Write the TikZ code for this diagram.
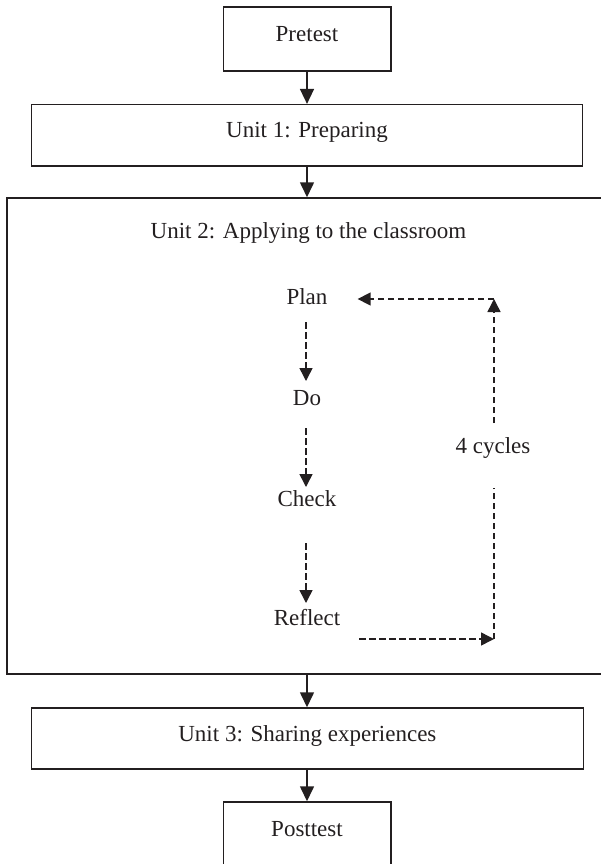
\documentclass[tikz,border=0pt]{standalone}
\usepackage{fontspec}
\setmainfont{Liberation Serif}
\usetikzlibrary{arrows.meta}
\definecolor{ink}{RGB}{35,31,32}
\begin{document}
\begin{tikzpicture}[x=1pt,y=-1pt,
  every node/.style={text=ink,font=\fontsize{23}{27}\selectfont},
  box/.style={draw=ink,line width=1.5pt,inner sep=0pt,text height=16pt,text depth=11pt},
  lbl/.style={inner sep=0pt,anchor=base},
  arr/.style={draw=ink,line width=1.6pt,-{Triangle[length=15pt,width=14pt]}},
  dasharr/.style={draw=ink,line width=1.5pt,dash pattern=on 6.5pt off 3.5pt,-{Triangle[length=13pt,width=13pt]}},
  dashln/.style={draw=ink,line width=1.5pt,dash pattern=on 6.5pt off 3.5pt}]
\useasboundingbox (0,0) rectangle (600,864);
% boxes
\node[box,minimum width=167.5pt,minimum height=64pt] (pre) at (307,39) {Pretest};
\node[box,minimum width=551pt,minimum height=61.3pt] (u1) at (307,135.3) {Unit 1: Preparing};
\node[draw=ink,line width=1.5pt,minimum width=595pt,minimum height=476pt,inner sep=0pt] (u2) at (304.5,436) {};
\node[lbl] (u2t) at (308.5,238) {Unit 2: Applying to the classroom};
\node[box,minimum width=551.8pt,minimum height=61pt] (u3) at (307.4,738.5) {Unit 3: Sharing experiences};
\node[box,minimum width=167.5pt,minimum height=64pt] (post) at (307,834) {Posttest};
% solid arrows
\draw[arr] (pre.south) -- (u1.north -| pre.south);
\draw[arr] (u1.south -| pre.south) -- (u2.north -| pre.south);
\draw[arr] (u2.south -| pre.south) -- (u3.north -| pre.south);
\draw[arr] (u3.south -| post.north) -- (post.north);
% cycle labels
\node[lbl] (plan) at (307,304) {Plan};
\node[lbl] (do) at (307,405) {Do};
\node[lbl] (check) at (307,506) {Check};
\node[lbl] (reflect) at (307,625) {Reflect};
\node[lbl] (cyc) at (493,453) {4 cycles};
\coordinate (cbr) at (494,639);
\coordinate (ctr) at (494,299);
\coordinate (cyclo) at ([yshift=-35pt]cyc.base);
\coordinate (cychi) at ([yshift=30pt]cyc.base);
% dashed arrows
\draw[dasharr] ([xshift=-1pt,yshift=-18pt]plan.base) -- ([xshift=-1pt,yshift=24pt]do.base);
\draw[dasharr] ([xshift=-1pt,yshift=-23pt]do.base) -- ([xshift=-1pt,yshift=19pt]check.base);
\draw[dasharr] ([xshift=-1pt,yshift=-37pt]check.base) -- ([xshift=-1pt,yshift=22pt]reflect.base);
\draw[dasharr] ([xshift=19pt,yshift=-14pt]reflect.base east) -- (cbr);
\draw[dashln] (cbr) -- (cbr |- cyclo);
\draw[dasharr] (ctr |- cychi) -- (ctr);
\draw[dasharr] (ctr) -- ([xshift=30pt,yshift=5pt]plan.base east);
\end{tikzpicture}
\end{document}
